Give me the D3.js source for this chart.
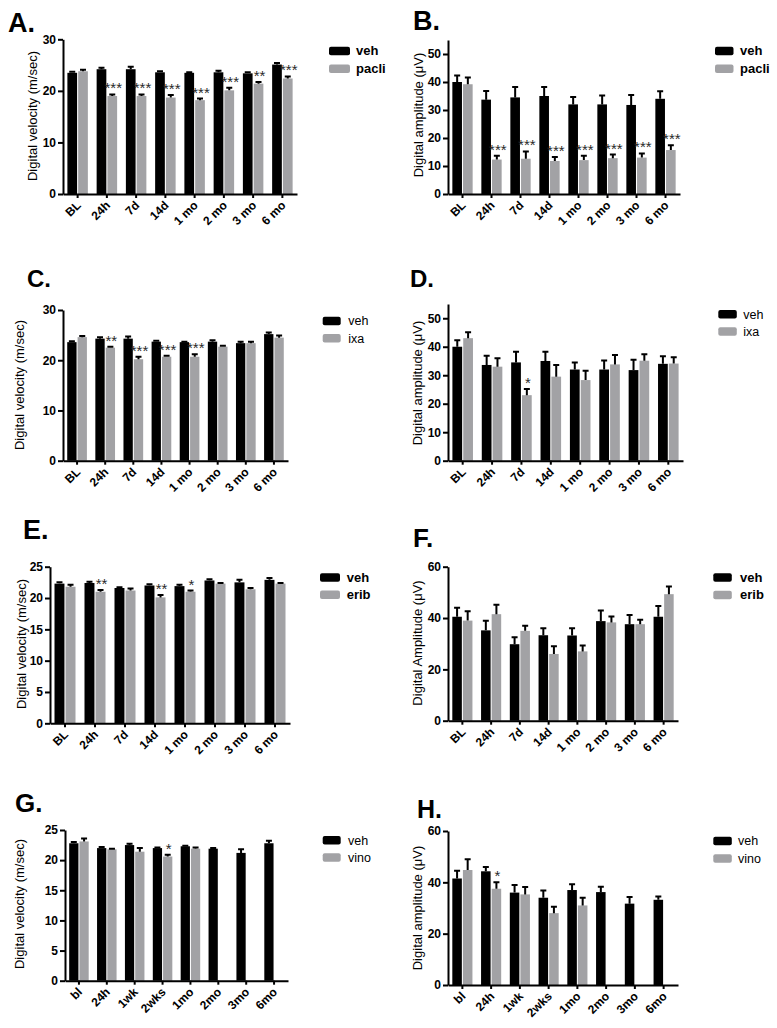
<!DOCTYPE html>
<html><head><meta charset="utf-8">
<script src="https://cdn.jsdelivr.net/npm/d3@7"></script>
<style>
body{margin:0;background:#fff}
svg{display:block}
text{font-family:"Liberation Sans",Arial,Helvetica,sans-serif}
</style>
</head><body>
<svg id="c" width="777" height="1028"></svg>
<script>
// ---------- DATA ----------
const catsMain = ["BL","24h","7d","14d","1 mo","2 mo","3 mo","6 mo"];
const catsVino = ["bl","24h","1wk","2wks","1mo","2mo","3mo","6mo"];

// A: velocity, paclitaxel
const vehA     = [23.5,24.2,24.2,23.6,23.5,23.6,23.4,25.1];
const vehAerr  = [0.2,0.3,0.5,0.2,0.1,0.3,0.2,0.3];
const pacliA   = [23.8,19.0,19.0,18.7,18.2,20.1,21.4,22.4];
const pacliAerr= [0.3,0.3,0.3,0.5,0.3,0.5,0.3,0.4];
const sigA     = ["","***","***","***","***","***","**","***"];

// B: amplitude, paclitaxel
const vehB     = [40.0,33.7,34.5,35.0,32.0,32.0,31.8,34.0];
const vehBerr  = [2.3,3.1,3.7,3.2,2.6,3.2,3.6,2.7];
const pacliB   = [39.2,12.3,12.6,11.8,12.1,12.8,13.0,15.7];
const pacliBerr= [2.4,1.4,2.6,1.4,1.6,1.3,1.5,1.7];
const sigB     = ["","***","***","***","***","***","***","***"];

// C: velocity, ixabepilone
const vehC     = [23.6,24.3,24.3,23.7,23.6,23.7,23.4,25.2];
const vehCerr  = [0.2,0.3,0.4,0.2,0.1,0.3,0.3,0.3];
const ixaC     = [24.6,22.5,20.2,20.7,20.7,22.7,23.4,24.5];
const ixaCerr  = [0.2,0.2,0.5,0.2,0.5,0.2,0.3,0.4];
const sigC     = ["","**","***","***","***","","",""];

// D: amplitude, ixabepilone
const vehD     = [40.0,33.6,34.5,35.0,32.0,32.0,31.8,34.0];
const vehDerr  = [2.3,3.2,3.7,3.2,2.5,3.2,3.6,2.7];
const ixaD     = [43.0,33.0,23.0,29.5,28.3,33.8,35.1,34.1];
const ixaDerr  = [2.1,3.0,2.2,4.1,3.3,3.3,2.3,2.2];
const sigD     = ["","","*","","","","",""];

// E: velocity, eribulin
const vehE     = [22.3,22.4,21.6,22.0,21.9,22.8,22.5,22.9];
const vehEerr  = [0.2,0.2,0.1,0.2,0.2,0.2,0.4,0.3];
const eribE    = [21.8,21.0,21.2,20.1,21.0,22.3,21.4,22.3];
const eribEerr = [0.3,0.3,0.3,0.4,0.2,0.1,0.2,0.1];
const sigE     = ["","**","","**","*","","",""];

// F: amplitude, eribulin
const vehF     = [40.5,35.2,29.8,33.3,33.2,38.8,37.6,40.5];
const vehFerr  = [3.5,3.7,2.7,2.7,2.8,4.1,3.6,4.2];
const eribF    = [39.0,41.5,35.0,26.0,27.0,38.3,37.6,49.3];
const eribFerr = [3.6,3.7,2.0,3.0,2.3,2.3,1.7,3.0];
const sigF     = ["","","","","","","",""];

// G: velocity, vinorelbine
const vehG     = [22.8,22.0,22.5,22.0,22.3,21.9,21.2,22.8];
const vehGerr  = [0.2,0.2,0.2,0.1,0.1,0.1,0.6,0.4];
const vinoG    = [23.1,21.8,21.4,20.6,21.9,null,null,null];
const vinoGerr = [0.5,0.1,0.6,0.3,0.2,null,null,null];
const sigG     = ["","","","*","","","",""];

// H: amplitude, vinorelbine
const vehH     = [41.5,44.3,36.0,34.0,37.0,36.2,31.7,33.2];
const vehHerr  = [3.0,1.7,3.0,2.8,2.3,2.1,2.6,1.3];
const vinoH    = [44.8,37.5,35.3,28.0,31.0,null,null,null];
const vinoHerr = [4.2,2.5,2.9,2.5,3.0,null,null,null];
const sigH     = ["","*","","","","","",""];

const velTicks25 = [0,5,10,15,20,25];
const velTicks30 = [0,10,20,30];
const ampTicks55 = [0,10,20,30,40,50];
const ampTicks60 = [0,20,40,60];

const BLACK = "#000000";
const GREY  = "#a2a2a5";

// ---------- DRAW ----------
const svg = d3.select("#c");

function drawPanel(p){
  const g = svg.append("g");
  const y = d3.scaleLinear().domain([0,p.max]).range([p.yBase,p.yTop]);
  const x = d3.scaleBand().domain(p.cats).range([p.xL,p.xR]).paddingInner(0.3).paddingOuter(0.15);
  const xs = d3.scaleBand().domain([0,1]).range([0,x.bandwidth()]).paddingInner(0.1);
  const series = [
    {vals:p.a, errs:p.aErr, color:BLACK, name:p.names[0]},
    {vals:p.b, errs:p.bErr, color:GREY,  name:p.names[1]}
  ];
  series.forEach((s,i)=>{
    const data = p.cats.map((c,j)=>({c:c, v:s.vals[j], e:s.errs[j]})).filter(d=>d.v!=null);
    const cx = d => x(d.c)+xs(i)+xs.bandwidth()/2;
    g.append("g").selectAll("rect").data(data).join("rect")
      .attr("x",d=>x(d.c)+xs(i)).attr("y",d=>y(d.v))
      .attr("width",xs.bandwidth()).attr("height",d=>y(0)-y(d.v))
      .attr("fill",s.color);
    g.append("g").selectAll("path").data(data).join("path")
      .attr("d",d=>`M${cx(d)},${y(d.v)}V${y(d.v+d.e)}M${cx(d)-3},${y(d.v+d.e)}H${cx(d)+3}`)
      .attr("stroke","#000").attr("stroke-width",2).attr("fill","none");
  });
  // significance stars
  const sdata = p.cats.map((c,j)=>({c:c, s:p.sig[j], v:p.b[j], e:p.bErr[j]})).filter(d=>d.s);
  g.append("g").selectAll("text").data(sdata).join("text")
    .attr("x",d=>x(d.c)+xs(1)+xs.bandwidth()/2+1)
    .attr("y",d=>y(d.v+d.e)-1)
    .attr("text-anchor","middle").attr("font-size",15).attr("fill","#2a2a2a")
    .text(d=>d.s);

  // axes
  const ya = g.append("g").attr("transform",`translate(${p.xL},0)`)
    .call(d3.axisLeft(y).tickValues(p.ticks).tickSize(5).tickSizeOuter(0).tickPadding(2).tickFormat(d3.format("d")));
  const xa = g.append("g").attr("transform",`translate(0,${p.yBase})`)
    .call(d3.axisBottom(x).tickSize(4).tickSizeOuter(0));
  [ya,xa].forEach(a=>{
    a.select(".domain").attr("stroke","#000").attr("stroke-width",2);
    a.selectAll(".tick line").attr("stroke","#000").attr("stroke-width",2);
    a.selectAll("text").attr("font-size",12).attr("font-weight","bold").attr("fill","#000")
      .attr("font-family",'"Liberation Sans",Arial,sans-serif');
  });
  xa.selectAll(".tick text").attr("x",0).attr("y",0).attr("dy",0)
    .attr("transform","translate(4,12) rotate(-45)").attr("text-anchor","end");

  // y title
  g.append("text").attr("transform",`translate(${p.titleX},${p.titleY}) rotate(-90)`)
    .attr("text-anchor","middle").attr("font-size",13).attr("fill","#000").text(p.ytitle);

  // legend
  series.forEach((s,i)=>{
    const ly = p.leg.y + i*p.leg.dy;
    g.append("rect").attr("x",p.leg.x).attr("y",ly).attr("width",p.leg.w).attr("height",8.5)
      .attr("rx",2).attr("fill",s.color);
    g.append("text").attr("x",p.leg.tx).attr("y",ly+8.5)
      .attr("font-size",p.leg.bold?13:12.5).attr("font-weight",p.leg.bold?"bold":"normal")
      .attr("fill","#000").text(s.name);
  });

  // panel letter
  g.append("text").attr("x",p.lab.x).attr("y",p.lab.y).attr("font-size",p.lab.size)
    .attr("font-weight","bold").attr("fill","#000").text(p.lab.t);
}

const velTitle = "Digital velocity (m/sec)";
const ampTitle = "Digital amplitude (\u03bcV)";

drawPanel({cats:catsMain, a:vehA, aErr:vehAerr, b:pacliA, bErr:pacliAerr, sig:sigA, names:["veh","pacli"],
  max:30, ticks:velTicks30, xL:63, xR:297, yBase:194, yTop:39.3, ytitle:velTitle, titleX:37, titleY:116,
  leg:{x:329,y:46.7,dy:17.7,w:21,tx:356,bold:true}, lab:{t:"A.",x:8,y:32,size:27}});
drawPanel({cats:catsMain, a:vehB, aErr:vehBerr, b:pacliB, bErr:pacliBerr, sig:sigB, names:["veh","pacli"],
  max:55, ticks:ampTicks55, xL:448, xR:680, yBase:194, yTop:40, ytitle:ampTitle, titleX:422.5, titleY:115,
  leg:{x:715,y:46.7,dy:17.7,w:18.5,tx:740,bold:true}, lab:{t:"B.",x:413,y:30,size:27}});
drawPanel({cats:catsMain, a:vehC, aErr:vehCerr, b:ixaC, bErr:ixaCerr, sig:sigC, names:["veh","ixa"],
  max:30, ticks:velTicks30, xL:63, xR:288, yBase:460.7, yTop:310, ytitle:velTitle, titleX:24, titleY:385,
  leg:{x:322.7,y:316.7,dy:17.3,w:18,tx:348.3,bold:false}, lab:{t:"C.",x:27,y:287,size:24}});
drawPanel({cats:catsMain, a:vehD, aErr:vehDerr, b:ixaD, bErr:ixaDerr, sig:sigD, names:["veh","ixa"],
  max:55, ticks:ampTicks55, xL:448, xR:683, yBase:460.7, yTop:304, ytitle:ampTitle, titleX:421.5, titleY:383,
  leg:{x:718.3,y:310,dy:17.3,w:18.5,tx:743.3,bold:false}, lab:{t:"D.",x:410,y:287,size:24}});
drawPanel({cats:catsMain, a:vehE, aErr:vehEerr, b:eribE, bErr:eribEerr, sig:sigE, names:["veh","erib"],
  max:25, ticks:velTicks25, xL:50, xR:290, yBase:723.3, yTop:566.7, ytitle:velTitle, titleX:26, titleY:644,
  leg:{x:320,y:573.3,dy:17.2,w:20,tx:346.7,bold:true}, lab:{t:"E.",x:23,y:539,size:27}});
drawPanel({cats:catsMain, a:vehF, aErr:vehFerr, b:eribF, bErr:eribFerr, sig:sigF, names:["veh","erib"],
  max:60, ticks:ampTicks60, xL:448, xR:678, yBase:720.7, yTop:566.7, ytitle:"Digital Amplitude (\u03bcV)", titleX:421.5, titleY:643,
  leg:{x:713.3,y:573.3,dy:17.4,w:18.5,tx:740,bold:true}, lab:{t:"F.",x:413,y:547,size:26}});
drawPanel({cats:catsVino, a:vehG, aErr:vehGerr, b:vinoG, bErr:vinoGerr, sig:sigG, names:["veh","vino"],
  max:25, ticks:velTicks25, xL:65, xR:288, yBase:980.7, yTop:830, ytitle:velTitle, titleX:24, titleY:904,
  leg:{x:322.7,y:836,dy:17.3,w:18,tx:348,bold:false}, lab:{t:"G.",x:15,y:812,size:26}});
drawPanel({cats:catsVino, a:vehH, aErr:vehHerr, b:vinoH, bErr:vinoHerr, sig:sigH, names:["veh","vino"],
  max:60, ticks:ampTicks60, xL:448, xR:678, yBase:985, yTop:831, ytitle:ampTitle, titleX:421.5, titleY:908,
  leg:{x:713.3,y:836.7,dy:17.6,w:18.5,tx:738,bold:false}, lab:{t:"H.",x:417,y:818,size:25}});
</script>
</body></html>
